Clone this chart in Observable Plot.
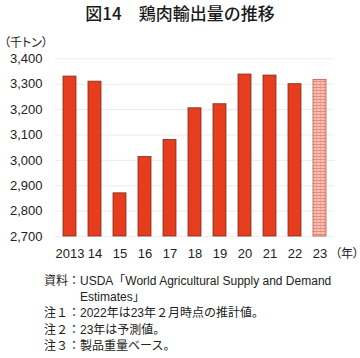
<!DOCTYPE html>
<html><head><meta charset="utf-8">
<script src="https://cdn.jsdelivr.net/npm/d3@7"></script>
<script src="https://cdn.jsdelivr.net/npm/@observablehq/plot@0.6"></script>
<style>
html,body{margin:0;padding:0;background:#fff;}
#wrap{position:relative;width:360px;height:358px;font-family:"Liberation Sans","Noto Sans CJK JP",sans-serif;color:#222;}
.abs{position:absolute;white-space:nowrap;}
#title{left:0;width:360px;top:3px;text-align:center;font-size:17px;font-weight:500;font-family:"Noto Sans CJK JP",sans-serif;line-height:20px;color:#1a1a1a;}
#unit{left:4px;top:34px;font-size:12px;line-height:16px;font-family:"Noto Sans CJK JP",sans-serif;font-feature-settings:"palt";z-index:2;}
#yearlbl{left:335px;top:245px;font-size:12px;line-height:16px;font-family:"Noto Sans CJK JP",sans-serif;font-feature-settings:"palt";z-index:2;}
#chart{left:0;top:30px;z-index:1;}
#cap{left:44px;top:273px;font-size:12px;line-height:16.2px;}
#cap div{white-space:nowrap;}
.ind{padding-left:36px;}
</style></head>
<body><div id="wrap">
<div id="title" class="abs">図14　鶏肉輸出量の推移</div>
<div id="chart" class="abs"></div>
<div id="unit" class="abs">（千トン）</div>
<div id="yearlbl" class="abs">（年）</div>
<div id="cap" class="abs">
<div>資料：USDA「World Agricultural Supply and Demand</div>
<div class="ind">Estimates」</div>
<div>注１：2022年は23年２月時点の推計値。</div>
<div>注２：23年は予測値。</div>
<div>注３：製品重量ベース。</div>
</div>
</div>
<script>
const years = ["2013","2014","2015","2016","2017","2018","2019","2020","2021","2022","2023"];
const tickLabels = ["2013","14","15","16","17","18","19","20","21","22","23"];
const values = [3330, 3310, 2870, 3013, 3080, 3205, 3221, 3338, 3334, 3300, 3317];
const forecast = [false,false,false,false,false,false,false,false,false,false,true];
const yTicks = [2700, 2800, 2900, 3000, 3100, 3200, 3300, 3400];
const yMin = 2700, yMax = 3400;

const data = years.map((y, i) => ({year: y, value: values[i], label: tickLabels[i], forecast: forecast[i]}));
const labelOf = new Map(data.map(d => [d.year, d.label]));

const svg = Plot.plot({
  width: 360,
  height: 240,
  marginTop: 28.3,
  marginBottom: 34,
  marginLeft: 55,
  marginRight: 26,
  style: {fontSize: "13px", fontFamily: "Liberation Sans, Noto Sans CJK JP, sans-serif", color: "#222", background: "transparent"},
  x: {domain: years, paddingInner: 0.49, paddingOuter: 0.245, tickSize: 0, tickPadding: 12, label: null, tickFormat: d => labelOf.get(d)},
  y: {domain: [yMin, yMax], ticks: yTicks, tickFormat: d3.format(","), tickSize: 0, tickPadding: 13, label: null},
  marks: [
    Plot.ruleY(yTicks, {stroke: "#ebebeb", strokeWidth: 1}),
    Plot.barY(data, {
      x: "year", y1: () => yMin, y2: "value",
      fill: d => d.forecast ? "url(#grid23)" : "#E63D1E",
      stroke: d => d.forecast ? "#B85A4A" : "#7E2E1E",
      strokeWidth: 0.8
    })
  ]
});

const ns = "http://www.w3.org/2000/svg";
const defs = document.createElementNS(ns, "defs");
const pat = document.createElementNS(ns, "pattern");
pat.setAttribute("id", "grid23");
pat.setAttribute("patternUnits", "userSpaceOnUse");
pat.setAttribute("width", "4");
pat.setAttribute("height", "3");
const bg = document.createElementNS(ns, "rect");
bg.setAttribute("width", "4"); bg.setAttribute("height", "3"); bg.setAttribute("fill", "#F8C0B4");
pat.appendChild(bg);
const h = document.createElementNS(ns, "rect");
h.setAttribute("width", "4"); h.setAttribute("height", "0.7"); h.setAttribute("fill", "#E2725E");
pat.appendChild(h);
const v = document.createElementNS(ns, "rect");
v.setAttribute("width", "0.6"); v.setAttribute("height", "3"); v.setAttribute("fill", "#EC9484");
pat.appendChild(v);
defs.appendChild(pat);
svg.insertBefore(defs, svg.firstChild);

document.getElementById("chart").appendChild(svg);
</script>
</body></html>
